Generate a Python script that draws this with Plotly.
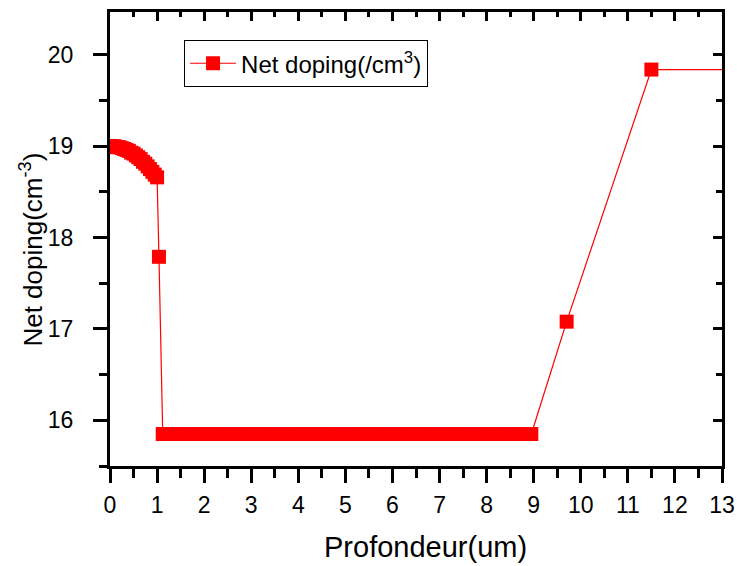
import plotly.graph_objects as go

# Depth (um) and net doping (log10 cm^-3)
depth = [0.00, 0.05, 0.10, 0.15, 0.20, 0.25, 0.30, 0.35, 0.40, 0.45, 0.50,
         0.55, 0.60, 0.65, 0.70, 0.75, 0.80, 0.85, 0.90, 0.95, 1.00,
         1.04,
         1.12, 1.30, 1.50, 1.70, 1.90, 2.10, 2.30, 2.50, 2.70, 2.90, 3.10,
         3.30, 3.50, 3.70, 3.90, 4.10, 4.30, 4.50, 4.70, 4.90, 5.10, 5.30,
         5.50, 5.70, 5.90, 6.10, 6.30, 6.50, 6.70, 6.90, 7.10, 7.30, 7.50,
         7.70, 7.90, 8.10, 8.30, 8.50, 8.70, 8.95,
         9.70, 11.50, 14.00]
doping = [19.00, 19.00, 19.00, 18.99, 18.99, 18.98, 18.97, 18.96, 18.95, 18.93, 18.92,
          18.90, 18.88, 18.86, 18.83, 18.81, 18.78, 18.75, 18.72, 18.69, 18.66,
          17.79,
          15.85, 15.85, 15.85, 15.85, 15.85, 15.85, 15.85, 15.85, 15.85, 15.85, 15.85,
          15.85, 15.85, 15.85, 15.85, 15.85, 15.85, 15.85, 15.85, 15.85, 15.85, 15.85,
          15.85, 15.85, 15.85, 15.85, 15.85, 15.85, 15.85, 15.85, 15.85, 15.85, 15.85,
          15.85, 15.85, 15.85, 15.85, 15.85, 15.85, 15.85,
          17.08, 19.84, 19.84]

x_range = [0, 13]
y_range = [15.5, 20.47]
x_ticks = list(range(0, 14))
y_ticks = [16, 17, 18, 19, 20]
x_title = "Profondeur(um)"
y_title = "Net doping(cm<sup>-3</sup>)"
legend_name = "Net doping(/cm<sup>3</sup>)"

FONT = "Liberation Sans, Arial, sans-serif"
RED = "#FF0000"

fig = go.Figure()
fig.add_trace(go.Scatter(
    x=depth, y=doping, mode="lines+markers",
    name=legend_name,
    line=dict(color=RED, width=1.2),
    marker=dict(symbol="square", size=14, color=RED, line=dict(width=0)),
    cliponaxis=True,
))
# invisible trace to activate mirrored axes
fig.add_trace(go.Scatter(x=[0], y=[16], xaxis="x2", yaxis="y2", mode="markers",
                         marker=dict(opacity=0), showlegend=False, hoverinfo="skip"))

common = dict(showgrid=False, zeroline=False, linecolor="black", linewidth=3,
              tickcolor="black", tickwidth=3, automargin=False)

fig.update_layout(
    width=737, height=566,
    margin=dict(l=110, r=15, t=12, b=100),
    paper_bgcolor="white", plot_bgcolor="white",
    font=dict(family=FONT, color="black"),
    xaxis=dict(range=x_range, tickvals=x_ticks, ticks="outside", ticklen=14,
               showline=True, tickfont=dict(size=23), ticklabelstandoff=2,
               minor=dict(dtick=0.5, ticks="outside", ticklen=9, tickwidth=3, tickcolor="black"),
               **common),
    yaxis=dict(range=y_range, tickvals=y_ticks, ticks="outside", ticklen=14,
               showline=True, tickfont=dict(size=23), ticklabelstandoff=15,
               minor=dict(dtick=0.5, ticks="outside", ticklen=8, tickwidth=3, tickcolor="black"),
               **common),
    xaxis2=dict(range=x_range, overlaying="x", side="top", tickvals=x_ticks,
                ticks="inside", ticklen=9, showticklabels=False, showline=True,
                minor=dict(dtick=0.5, ticks="inside", ticklen=5, tickwidth=3, tickcolor="black"),
                **common),
    yaxis2=dict(range=y_range, overlaying="y", side="right", tickvals=y_ticks,
                ticks="inside", ticklen=9, showticklabels=False, showline=True,
                minor=dict(dtick=0.5, ticks="inside", ticklen=6, tickwidth=3, tickcolor="black"),
                **common),
    legend=dict(x=0.121, y=0.938, xanchor="left", yanchor="top",
                bordercolor="black", borderwidth=1, bgcolor="white",
                font=dict(size=24), itemwidth=46, tracegroupgap=0),
    showlegend=True,
    annotations=[
        dict(text=x_title, xref="paper", yref="paper", x=0.516, y=-0.178,
             xanchor="center", yanchor="middle", showarrow=False,
             font=dict(size=29)),
        dict(text=y_title, xref="paper", yref="paper", x=-0.128, y=0.476,
             xanchor="center", yanchor="middle", showarrow=False, textangle=-90,
             font=dict(size=26)),
    ],
)

fig.write_html("out.html", post_script="document.body.style.margin='0';",
               config={"displayModeBar": False})
